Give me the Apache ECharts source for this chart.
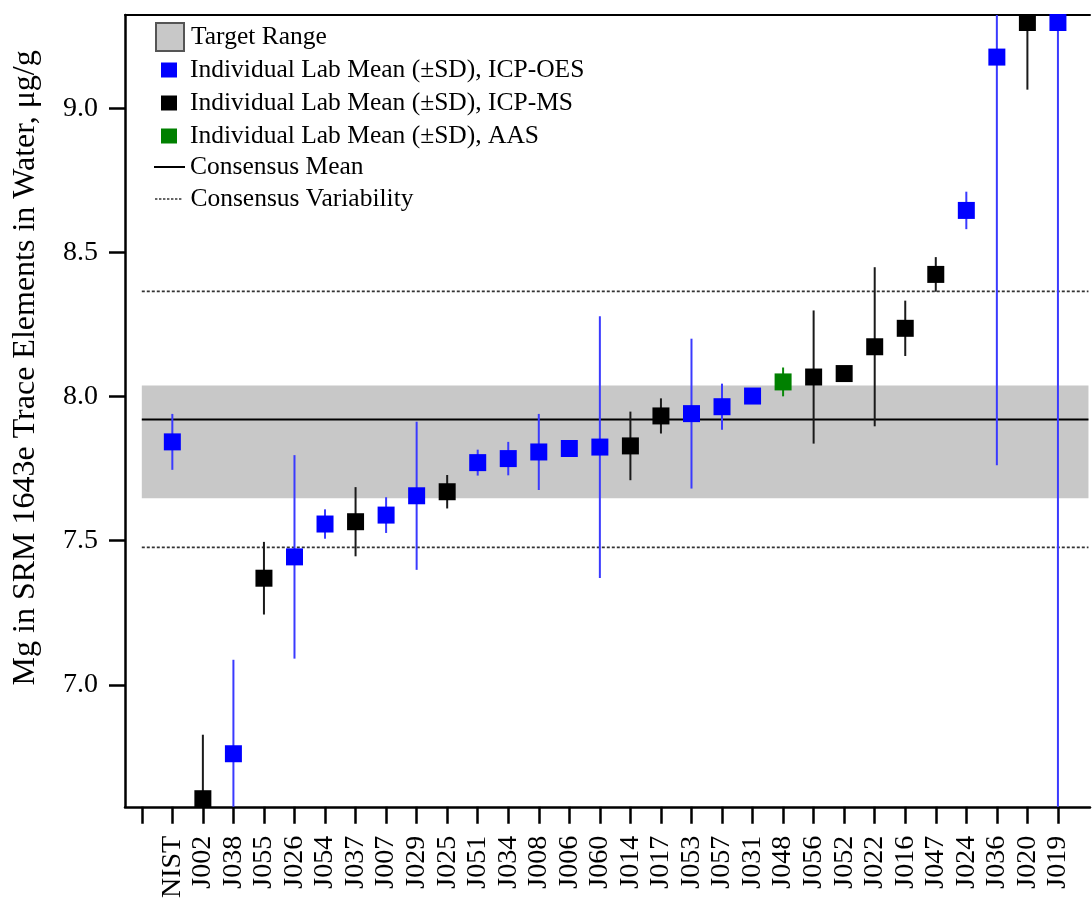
<!DOCTYPE html>
<html>
<head>
<meta charset="utf-8">
<script src="https://cdn.jsdelivr.net/npm/echarts@6/dist/echarts.min.js"></script>
<style>
html,body{margin:0;padding:0;background:#fff;}
#chart{width:1092px;height:901px;}
</style>
</head>
<body>
<div id="chart"></div>
<script>
// ---- data ----
const labs = ['NIST','J002','J038','J055','J026','J054','J037','J007','J029','J025','J051','J034','J008','J006','J060','J014','J017','J053','J057','J031','J048','J056','J052','J022','J016','J047','J024','J036','J020','J019'];
const methods = ['OES','MS','OES','MS','OES','OES','MS','OES','OES','MS','OES','OES','OES','OES','OES','MS','MS','OES','OES','OES','AAS','MS','MS','MS','MS','MS','OES','OES','MS','OES'];
const means = [7.843,6.605,6.761,7.370,7.444,7.558,7.566,7.589,7.656,7.670,7.771,7.785,7.808,7.820,7.825,7.829,7.933,7.941,7.965,8.002,8.051,8.068,8.080,8.173,8.237,8.424,8.646,9.178,9.298,9.298];
const sds = [0.097,0.222,0.326,0.126,0.353,0.051,0.120,0.062,0.257,0.058,0.045,0.058,0.132,0.020,0.454,0.119,0.061,0.260,0.080,0.020,0.050,0.231,0.020,0.276,0.096,0.060,0.065,1.416,0.233,3.000];
const consensusMean = 7.921;
const consensusVarLow = 7.477;
const consensusVarHigh = 8.365;
const targetLow = 7.647;
const targetHigh = 8.039;
const yTicks = [7.0, 7.5, 8.0, 8.5, 9.0];
const yMin = 6.577, yMax = 9.324;
const yTitle = 'Mg in SRM 1643e Trace Elements in Water, \u03bcg/g';

const methodInfo = {
  OES: {name: 'Individual Lab Mean (\u00b1SD), ICP-OES', color: '#0000ff', bar: '#3a3aff'},
  MS:  {name: 'Individual Lab Mean (\u00b1SD), ICP-MS',  color: '#000000', bar: '#1a1a1a'},
  AAS: {name: 'Individual Lab Mean (\u00b1SD), AAS',     color: '#008000', bar: '#0a8a0a'}
};

const FONT = "'Liberation Serif','Times New Roman',serif";
const xStart = 0, xEnd = 31; // span of reference lines/band in slot units
const tickIdx = []; for (let i = 0; i <= labs.length; i++) tickIdx.push(i);
const labelIdx = []; for (let i = 1; i <= labs.length; i++) labelIdx.push(i);

function clampY(v){ return Math.max(yMin, Math.min(yMax, v)); }

const series = [];
// target range band
series.push({
  name: 'Target Range', type: 'custom', z: 1,
  itemStyle: {color: '#c8c8c8'},
  data: [[xStart, xEnd, targetLow, targetHigh]],
  renderItem: function(params, api){
    const p1 = api.coord([api.value(0), api.value(3)]);
    const p2 = api.coord([api.value(1), api.value(2)]);
    return {type: 'rect', shape: {x: p1[0], y: p1[1], width: p2[0]-p1[0], height: p2[1]-p1[1]}, style: {fill: '#c8c8c8'}};
  }
});
// consensus mean
series.push({
  name: 'Consensus Mean', type: 'line', z: 2, symbol: 'none', silent: true,
  lineStyle: {color: '#000', width: 2},
  itemStyle: {color: '#000'},
  data: [[xStart, consensusMean], [xEnd, consensusMean]]
});
// consensus variability
[consensusVarLow, consensusVarHigh].forEach(function(v){
  series.push({
    name: 'Consensus Variability', type: 'line', z: 2, symbol: 'none', silent: true,
    lineStyle: {color: '#333', width: 1.6, type: [3, 2]},
    itemStyle: {color: '#333'},
    data: [[xStart, v], [xEnd, v]]
  });
});
// error bars and points per method
['OES','MS','AAS'].forEach(function(m){
  const info = methodInfo[m];
  const bars = [], pts = [];
  labs.forEach(function(l, i){
    if (methods[i] !== m) return;
    bars.push([i+1, means[i]-sds[i], means[i]+sds[i]]);
    pts.push([i+1, means[i]]);
  });
  series.push({
    name: info.name + ' SD', type: 'custom', z: 3, silent: true,
    data: bars,
    renderItem: function(params, api){
      const x = api.value(0);
      const a = api.coord([x, clampY(api.value(1))]);
      const b = api.coord([x, clampY(api.value(2))]);
      return {type: 'line', shape: {x1: a[0], y1: a[1], x2: b[0], y2: b[1]}, style: {stroke: info.bar, lineWidth: 2}};
    }
  });
  series.push({
    name: info.name, type: 'scatter', z: 4, symbol: 'rect', symbolSize: 17,
    itemStyle: {color: info.color, opacity: 1},
    data: pts
  });
});

// legend icon shapes
let dotPath = 'path://';
for (let i = 0; i < 7; i++) dotPath += 'M' + (i*4) + ',0h2.4v1.5h-2.4z';
const solidPath = 'path://M0,0h31v2h-31z';

function legendRow(name, top, itemW, itemH, pad, icon, itemStyle, left){
  const d = {name: name};
  if (icon) d.icon = icon;
  if (itemStyle) d.itemStyle = itemStyle;
  return {
    show: true, orient: 'vertical', left: left, top: top, padding: 0,
    itemWidth: itemW, itemHeight: itemH, selectedMode: false,
    data: [d],
    formatter: function(n){ return '{a|' + n + '}'; },
    textStyle: {fontFamily: FONT, fontSize: 25.5, color: '#000', lineHeight: 30,
      rich: {a: {fontFamily: FONT, fontSize: 25.5, color: '#000', lineHeight: 30, padding: [0,0,0,pad]}}}
  };
}

const option = {
  backgroundColor: '#fff',
  animation: false,
  grid: {left: 125, top: 15, right: 2, bottom: 93, containLabel: false},
  legend: [
    legendRow('Target Range', 22, 28, 28, 2, 'rect', {color: '#c8c8c8', borderColor: '#555', borderWidth: 2}, 155),
    legendRow(methodInfo.OES.name, 55, 16, 15, 8, 'rect', null, 161),
    legendRow(methodInfo.MS.name, 88, 16, 15, 8, 'rect', null, 161),
    legendRow(methodInfo.AAS.name, 121, 16, 15, 8, 'rect', null, 161),
    legendRow('Consensus Mean', 152, 31, 2, 0, solidPath, {color: '#000', borderWidth: 0}, 154),
    legendRow('Consensus Variability', 184, 26.4, 1.5, 4, dotPath, {color: '#333', borderWidth: 0}, 155)
  ],
  xAxis: [{
    type: 'value', min: -0.55, max: 31.05, position: 'bottom',
    axisLine: {show: true, onZero: false, lineStyle: {color: '#000', width: 2.5}},
    axisTick: {show: true, inside: false, length: 17, customValues: tickIdx, lineStyle: {color: '#000', width: 2.5}},
    axisLabel: {show: true, customValues: labelIdx, rotate: 90, margin: 29,
      fontFamily: FONT, fontSize: 28, color: '#000',
      formatter: function(v){ return labs[Math.round(v)-1] || ''; }},
    splitLine: {show: false}
  }, {
    type: 'value', min: -0.55, max: 31.05, position: 'top',
    axisLine: {show: true, onZero: false, lineStyle: {color: '#000', width: 2}},
    axisTick: {show: false}, axisLabel: {show: false}, splitLine: {show: false}
  }],
  yAxis: {
    type: 'value', min: yMin, max: yMax,
    axisLine: {show: true, onZero: false, lineStyle: {color: '#000', width: 2.5}},
    axisTick: {show: true, inside: false, length: 16, customValues: yTicks, lineStyle: {color: '#000', width: 2.5}},
    axisLabel: {show: true, customValues: yTicks, margin: 27, fontFamily: FONT, fontSize: 28, color: '#000',
      formatter: function(v){ return v.toFixed(1); }},
    splitLine: {show: false},
    name: yTitle, nameLocation: 'middle', nameRotate: 90, nameGap: 83,
    nameTextStyle: {fontFamily: FONT, fontSize: 32, color: '#000', padding: [0,0,0,86]}
  },
  series: series
};

const chart = echarts.init(document.getElementById('chart'), null, {renderer: 'canvas'});
chart.setOption(option);
</script>
</body>
</html>
